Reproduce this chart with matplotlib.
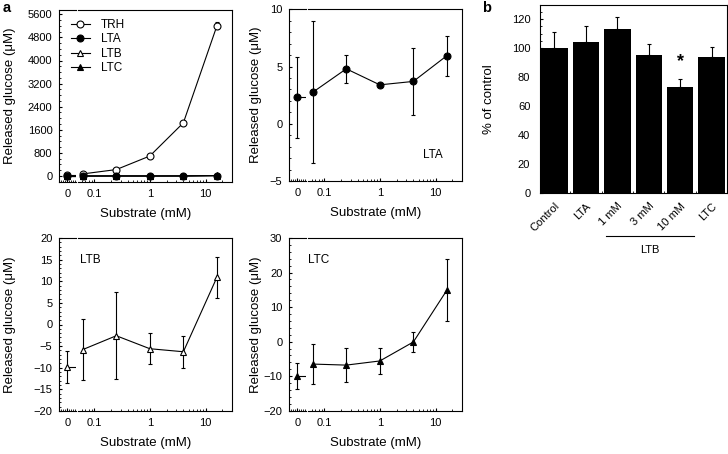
import matplotlib
matplotlib.use("Agg")
import matplotlib.pyplot as plt
import matplotlib.transforms as mtransforms
import numpy as np
from matplotlib.ticker import AutoMinorLocator, FixedLocator, LogLocator, MultipleLocator, NullFormatter

plt.rcParams["font.family"] = ["Liberation Sans", "DejaVu Sans"]

# Substrate concentrations (mM); first value is the "0" control on the broken axis.
conc = [0, 0.0625, 0.25, 1, 4, 16]

trh_mean = [20, 70, 220, 690, 1840, 5200]
trh_err = [10, 20, 30, 40, 80, 120]
lta_mean = [2.3, 2.75, 4.8, 3.4, 3.7, 5.95]
lta_err = [3.5, 6.2, 1.2, 0.2, 2.9, 1.75]
ltb_mean = [-9.9, -5.8, -2.6, -5.6, -6.3, 10.9]
ltb_err = [3.7, 7.1, 10.0, 3.6, 3.7, 4.7]
ltc_mean = [-10.0, -6.5, -6.8, -5.6, -0.1, 14.9]
ltc_err = [3.7, 5.8, 4.9, 3.7, 2.8, 8.9]

bar_labels = ["Control", "LTA", "1 mM", "3 mM", "10 mM", "LTC"]
bar_means = [100, 104, 113, 95, 73, 94]
bar_errs = [11, 11, 8.3, 7.8, 5.3, 6.5]

W, H = 728, 454
LW = 0.8
TICK_FS = 8
LABEL_FS = 9.5


def frac(l, t, r, b):
    """Pixel box (left, top, right, bottom) -> figure fraction rect."""
    return [l / W, 1 - b / H, (r - l) / W, (b - t) / H]


def broken_panel(fig, l, t, r, b, ylim, major, minor_div, ylabel_x, split=17, gap=2):
    ax0 = fig.add_axes(frac(l, t, l + split, b))
    ax1 = fig.add_axes(frac(l + split + gap, t, r, b), sharey=ax0)
    for ax in (ax0, ax1):
        for s in ax.spines.values():
            s.set_linewidth(LW)
        ax.tick_params(direction="in", labelsize=TICK_FS, width=LW, length=2.5, pad=5)
        ax.tick_params(which="minor", direction="in", width=0.6, length=1.5)
    ax0.spines["right"].set_visible(False)
    ax1.spines["left"].set_visible(False)
    ax1.tick_params(axis="y", which="both", left=False, labelleft=False)

    ax0.set_xlim(-0.47, 0.53)
    ax0.set_xticks([0])
    ax0.set_xticklabels(["0"])
    ax0.xaxis.set_minor_locator(MultipleLocator(0.12))
    ax0.set_ylim(*ylim)
    ax0.yaxis.set_major_locator(MultipleLocator(major))
    ax0.yaxis.set_minor_locator(AutoMinorLocator(minor_div))

    ax1.set_xscale("log")
    ax1.set_xlim(0.052, 29.5)
    ax1.xaxis.set_major_locator(FixedLocator([0.1, 1, 10]))
    ax1.set_xticklabels(["0.1", "1", "10"])
    ax1.xaxis.set_minor_locator(LogLocator(base=10, subs=np.arange(2, 10)))
    ax1.xaxis.set_minor_formatter(NullFormatter())

    ax0.set_ylabel("Released glucose (\u03bcM)", fontsize=LABEL_FS)
    ax0.yaxis.set_label_coords((ylabel_x - l) / split, 0.5)
    ax1.set_xlabel("Substrate (mM)", fontsize=LABEL_FS)
    full_w = r - l
    ax1.xaxis.set_label_coords((l + full_w / 2 - (l + split + gap)) / (r - l - split - gap),
                               -(26 / (b - t)))
    return ax0, ax1


def draw_series(ax0, ax1, mean, err, marker, mfc):
    style = dict(color="black", marker=marker, mfc=mfc, mec="black", ms=5, mew=LW,
                 lw=LW, capsize=1.5, elinewidth=LW, capthick=LW)
    ax0.errorbar(conc[:1], mean[:1], yerr=err[:1], **style)
    ax0.plot([conc[0], ax0.get_xlim()[1]], [mean[0], mean[0]], color="black", lw=LW)
    cont = ax1.errorbar(conc[1:], mean[1:], yerr=err[1:], **style)
    return cont[0]


fig = plt.figure(figsize=(W / 100, H / 100), dpi=100)

# a: TRH overview
a0, a1 = broken_panel(fig, 59.3, 10, 231.7, 181.7, (-200, 5750), 800, 4, 16)
handles = [
    draw_series(a0, a1, trh_mean, trh_err, "o", "white"),
    draw_series(a0, a1, lta_mean, lta_err, "o", "black"),
    draw_series(a0, a1, ltb_mean, ltb_err, "^", "white"),
    draw_series(a0, a1, ltc_mean, ltc_err, "^", "black"),
]
fig.legend(handles, ["TRH", "LTA", "LTB", "LTC"], loc="upper left",
           bbox_to_anchor=(71 / W, 1 - 19 / H), frameon=False, fontsize=8.5,
           borderpad=0, borderaxespad=0, labelspacing=0.2, handlelength=1.6,
           handletextpad=0.9)

# LTA
b0, b1 = broken_panel(fig, 289.3, 9.3, 461.7, 181, (-5, 10), 5, 5, 262)
draw_series(b0, b1, lta_mean, lta_err, "o", "black")
fig.text(433 / W, 1 - 155 / H, "LTA", fontsize=8.5, ha="center", va="center")

# LTB
c0, c1 = broken_panel(fig, 59.3, 238, 231.7, 411, (-20, 20), 5, 5, 16)
draw_series(c0, c1, ltb_mean, ltb_err, "^", "white")
fig.text(90 / W, 1 - 260 / H, "LTB", fontsize=8.5, ha="center", va="center")

# LTC
d0, d1 = broken_panel(fig, 289.3, 238, 461.7, 410.7, (-20, 30), 10, 5, 262)
draw_series(d0, d1, ltc_mean, ltc_err, "^", "black")
fig.text(319 / W, 1 - 260 / H, "LTC", fontsize=8.5, ha="center", va="center")

# b: bar chart
axb = fig.add_axes(frac(540, 4.7, 727.3, 192.7))
x = np.arange(len(bar_labels))
axb.bar(x, bar_means, width=0.84, color="black",
        yerr=[np.zeros(len(bar_errs)), bar_errs], capsize=1.5,
        error_kw=dict(elinewidth=LW, capthick=LW, ecolor="black"))
axb.set_xlim(-0.46, 5.5)
axb.set_ylim(0, 130)
axb.yaxis.set_major_locator(MultipleLocator(20))
axb.yaxis.set_minor_locator(AutoMinorLocator(4))
axb.set_xticks(x)
axb.set_xticklabels(bar_labels, rotation=45, ha="right", rotation_mode="anchor")
axb.set_xticks(x[:-1] + 0.5, minor=True)
for s in axb.spines.values():
    s.set_linewidth(LW)
axb.tick_params(direction="in", labelsize=TICK_FS, width=LW, length=2.5, pad=7)
axb.tick_params(axis="x", which="major", length=0, pad=6)
axb.tick_params(which="minor", direction="in", width=0.6, length=1.5)
axb.set_ylabel("% of control", fontsize=LABEL_FS)
axb.yaxis.set_label_coords((495 - 540) / 187.3, 0.5)
axb.text(x[4], 91, "*", ha="center", va="center", fontsize=13, fontweight="bold")

trans = mtransforms.blended_transform_factory(axb.transData, axb.transAxes)
axb.plot([1.65, 4.45], [-0.23, -0.23], color="black", lw=LW, transform=trans, clip_on=False)
axb.text(3.05, -0.305, "LTB", ha="center", va="center", fontsize=TICK_FS, transform=trans)

fig.text(7 / W, 1 - 8 / H, "a", fontsize=10.5, fontweight="bold", ha="center", va="center")
fig.text(487 / W, 1 - 8 / H, "b", fontsize=10.5, fontweight="bold", ha="center", va="center")

fig.savefig("out.png", dpi=100)
